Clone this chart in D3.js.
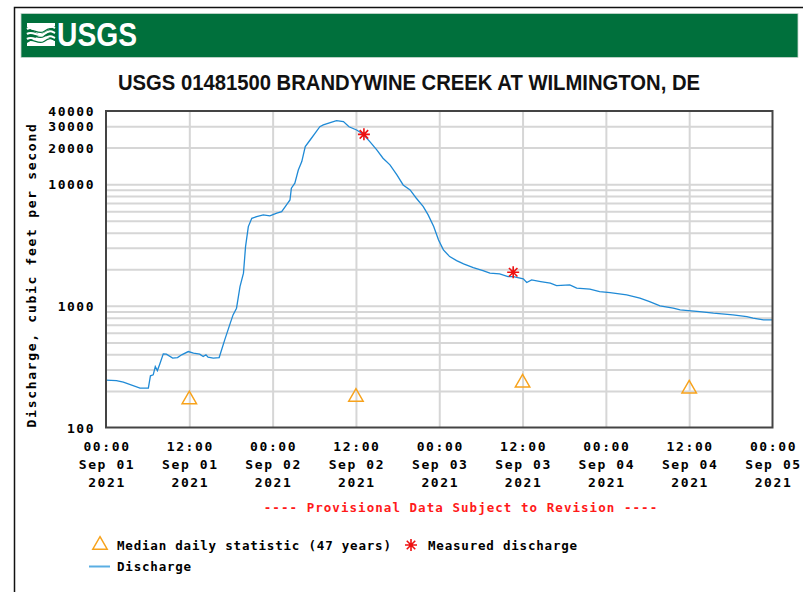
<!DOCTYPE html>
<html lang="en">
<head>
    <meta charset="UTF-8">
    <script src="https://d3js.org/d3.v7.min.js"></script>
    <title>USGS 01481500 Brandywine Creek</title>
    <style>
        body {
            margin: 0;
            background: white;
        }

        .mono {
            font-family: "DejaVu Sans Mono", "Liberation Mono", monospace;
            font-weight: bold;
        }

        .grid line {
            stroke: #d6d6d6;
            stroke-width: 2px;
        }

        .grid path {
            display: none;
        }
    </style>
</head>
<body>
    <div id="chart"></div>

    <script>
        // discharge series, hours after 00:00 Sep 01 2021
        const dischargeHours = [0, 1.5, 2.5, 4.9, 6.1, 6.4, 6.8, 7.1, 7.4, 7.7, 8.25, 8.7, 9.6, 10.3, 10.9,
            11.85, 12.6, 13.5, 14.0, 14.4, 14.7, 15.45, 16.3, 17.1, 17.9, 18.3, 18.8, 19.3, 19.8, 20.1,
            20.5, 21.0, 21.7, 22.65, 23.6, 24.6, 25.3, 26.0, 26.5, 26.7, 27.2, 27.7, 28.2, 28.7, 29.4,
            30.1, 30.8, 31.3, 32.3, 33.2, 34.2, 35.0, 36.1, 37.05, 38.0, 39.0, 39.9, 40.9, 41.9, 42.8,
            43.8, 44.7, 45.7, 46.4, 47.2, 47.9, 48.6, 49.5, 50.5, 51.5, 52.9, 54.3, 55.3, 56.7, 57.9,
            58.7, 60.1, 60.6, 61.3, 62.6, 64.0, 64.9, 66.8, 67.8, 69.7, 71.1, 72.6, 75.0, 76.9, 78.3,
            79.8, 81.7, 82.7, 85.5, 87.5, 90.3, 92.3, 93.2, 94.7, 96];
        const dischargeCfs = [245, 243, 236, 211, 211, 266, 271, 317, 294, 327, 403, 401, 372, 376, 396,
            421, 408, 401, 383, 396, 379, 372, 376, 525, 721, 843, 957, 1441, 1857, 3070,
            4486, 5250, 5420, 5595, 5490, 5780, 5955, 6760, 7430, 9270, 10190, 13100, 15360, 20370, 23100,
            26240, 29700, 30710, 32100, 33340, 32700, 29700, 27930, 25760, 22390, 19140, 16360, 14420, 11920, 9870,
            8980, 7670, 6545, 5600, 4486, 3485, 2885, 2541, 2356, 2214, 2065, 1950, 1857, 1832, 1741,
            1741, 1667, 1556, 1636, 1585, 1537, 1468, 1488, 1399, 1372, 1311, 1285, 1231, 1157, 1085,
            1000, 957, 927, 898, 871, 843, 817, 792, 767, 767];

        const medianHours = [12, 36, 60, 84];
        const medianCfs = [170, 178, 233, 208];

        const measuredHours = [37.15, 58.65];
        const measuredCfs = [25700, 1890];

        const xTickHours = [0, 12, 24, 36, 48, 60, 72, 84, 96];
        const xTickTimes = ["00:00", "12:00", "00:00", "12:00", "00:00", "12:00", "00:00", "12:00", "00:00"];
        const xTickDays = ["Sep 01", "Sep 01", "Sep 02", "Sep 02", "Sep 03", "Sep 03", "Sep 04", "Sep 04", "Sep 05"];
        const xTickYears = ["2021", "2021", "2021", "2021", "2021", "2021", "2021", "2021", "2021"];

        const yLabelValues = [100, 1000, 10000, 20000, 30000, 40000];
        const yGridValues = [200, 300, 400, 500, 600, 700, 800, 900, 1000,
            2000, 3000, 4000, 5000, 6000, 7000, 8000, 9000, 10000, 20000, 30000];

        const width = 803;
        const height = 592;
        const plot = { left: 106, right: 772.5, top: 111, bottom: 427.5 };

        const svg = d3.select("#chart").append("svg")
            .attr("width", width)
            .attr("height", height);

        // outer frame
        svg.append("path")
            .attr("d", `M14.5,${height} V7.5 H${width}`)
            .attr("fill", "none")
            .attr("stroke", "#111")
            .attr("stroke-width", 1.5);

        // USGS banner
        svg.append("rect")
            .attr("x", 21).attr("y", 13.5)
            .attr("width", 777).attr("height", 44)
            .attr("fill", "#00703c")
            .attr("stroke", "#c8d8cf")
            .attr("stroke-width", 0.8);

        // logo mark: white block crossed by green waves
        const logo = svg.append("g");
        logo.append("path")
            .attr("d", "M27,23 H55 V26 L41,34 L55,41 V46 H27 V43 L40,35 L27,27 Z")
            .attr("fill", "white");
        [29, 34, 39].forEach(wy => {
            logo.append("path")
                .attr("d", `M27,${wy} C33,${wy - 4} 38,${wy + 4} 44,${wy} S51,${wy - 3} 55,${wy - 1}`)
                .attr("fill", "none")
                .attr("stroke", "white")
                .attr("stroke-width", 2.2);
            logo.append("path")
                .attr("d", `M27,${wy + 2.4} C33,${wy - 1.6} 38,${wy + 6.4} 44,${wy + 2.4} S51,${wy - 0.6} 55,${wy + 1.4}`)
                .attr("fill", "none")
                .attr("stroke", "#00703c")
                .attr("stroke-width", 1.2);
        });

        svg.append("text")
            .attr("x", 57).attr("y", 45.5)
            .attr("textLength", 80)
            .attr("lengthAdjust", "spacingAndGlyphs")
            .attr("fill", "white")
            .style("font-family", "'Liberation Sans Narrow', 'Liberation Sans', Arial, sans-serif")
            .style("font-weight", "bold")
            .style("font-size", "34px")
            .text("USGS");

        // title
        svg.append("text")
            .attr("x", 118).attr("y", 90)
            .attr("textLength", 582)
            .attr("lengthAdjust", "spacingAndGlyphs")
            .attr("fill", "#111")
            .style("font-family", "'Liberation Sans', Arial, sans-serif")
            .style("font-weight", "bold")
            .style("font-size", "22px")
            .text("USGS 01481500 BRANDYWINE CREEK AT WILMINGTON, DE");

        const x = d3.scaleLinear().domain([0, 96]).range([plot.left, plot.right]);
        const y = d3.scaleLog().domain([100, 40000]).range([plot.bottom, plot.top]);

        // grid
        svg.append("g")
            .attr("class", "grid")
            .attr("transform", `translate(${plot.left},0)`)
            .call(d3.axisLeft(y).tickValues(yGridValues).tickSize(-(plot.right - plot.left)).tickFormat(""));

        svg.append("g")
            .attr("class", "grid")
            .attr("transform", `translate(0,${plot.bottom})`)
            .call(d3.axisBottom(x).tickValues(xTickHours.slice(1, -1)).tickSize(-(plot.bottom - plot.top)).tickFormat(""));

        // discharge line
        const points = dischargeHours.map((h, i) => [h, dischargeCfs[i]]);
        svg.append("path")
            .datum(points)
            .attr("fill", "none")
            .attr("stroke", "#1f8ad6")
            .attr("stroke-width", 1.3)
            .attr("d", d3.line().x(d => x(d[0])).y(d => y(d[1])));

        // median daily statistic
        const triangle = d3.symbol(d3.symbolTriangle).size(90);
        svg.selectAll(".median")
            .data(medianHours.map((h, i) => [h, medianCfs[i]]))
            .enter()
            .append("path")
            .attr("class", "median")
            .attr("transform", d => `translate(${x(d[0])},${y(d[1])})`)
            .attr("d", triangle)
            .attr("fill", "none")
            .attr("stroke", "#f7a21b")
            .attr("stroke-width", 1.5);

        // measured discharge stars
        const starPath = r => {
            const a = r * Math.SQRT1_2;
            return `M${-r},0H${r}M0,${-r}V${r}M${-a},${-a}L${a},${a}M${-a},${a}L${a},${-a}`;
        };
        svg.selectAll(".measured")
            .data(measuredHours.map((h, i) => [h, measuredCfs[i]]))
            .enter()
            .append("path")
            .attr("class", "measured")
            .attr("transform", d => `translate(${x(d[0])},${y(d[1])})`)
            .attr("d", starPath(6))
            .attr("stroke", "#ee1111")
            .attr("stroke-width", 1.6);

        // frame
        svg.append("rect")
            .attr("x", plot.left).attr("y", plot.top)
            .attr("width", plot.right - plot.left).attr("height", plot.bottom - plot.top)
            .attr("fill", "none")
            .attr("stroke", "#444")
            .attr("stroke-width", 2);

        // y tick labels
        svg.selectAll(".ylabel")
            .data(yLabelValues)
            .enter()
            .append("text")
            .attr("class", "ylabel mono")
            .attr("x", 95)
            .attr("y", d => y(d) + 5)
            .attr("text-anchor", "end")
            .style("font-size", "13px")
            .style("letter-spacing", "1.5px")
            .text(d => d);

        // x tick labels
        const xl = svg.selectAll(".xlabel")
            .data(xTickHours)
            .enter()
            .append("text")
            .attr("class", "xlabel mono")
            .attr("text-anchor", "middle")
            .style("font-size", "13px")
            .style("letter-spacing", "1.6px");
        [xTickTimes, xTickDays, xTickYears].forEach((labels, row) => {
            xl.append("tspan")
                .attr("x", d => x(d) + 1)
                .attr("y", 451 + row * 18)
                .text((d, i) => labels[i]);
        });

        // y title
        svg.append("text")
            .attr("class", "mono")
            .attr("transform", "translate(36,275) rotate(-90)")
            .attr("text-anchor", "middle")
            .style("font-size", "13px")
            .style("letter-spacing", "1.7px")
            .text("Discharge, cubic feet per second");

        // provisional note
        svg.append("text")
            .attr("class", "mono")
            .attr("x", 461).attr("y", 512)
            .attr("text-anchor", "middle")
            .attr("fill", "#ff1a1a")
            .style("font-size", "12.5px")
            .style("letter-spacing", "1.05px")
            .text("---- Provisional Data Subject to Revision ----");

        // legend
        const legend = svg.append("g").attr("class", "mono").style("font-size", "12.5px").style("letter-spacing", "0.8px");
        legend.append("path")
            .attr("transform", "translate(100,545)")
            .attr("d", triangle)
            .attr("fill", "none")
            .attr("stroke", "#f7a21b")
            .attr("stroke-width", 1.5);
        legend.append("text").attr("x", 117).attr("y", 549.5).text("Median daily statistic (47 years)");
        legend.append("path")
            .attr("transform", "translate(411,545)")
            .attr("d", starPath(6))
            .attr("stroke", "#ee1111")
            .attr("stroke-width", 1.6);
        legend.append("text").attr("x", 428).attr("y", 549.5).text("Measured discharge");
        legend.append("line")
            .attr("x1", 89).attr("x2", 110)
            .attr("y1", 566.5).attr("y2", 566.5)
            .attr("stroke", "#5aaee3")
            .attr("stroke-width", 2);
        legend.append("text").attr("x", 117).attr("y", 571).text("Discharge");
    </script>
</body>
</html>
